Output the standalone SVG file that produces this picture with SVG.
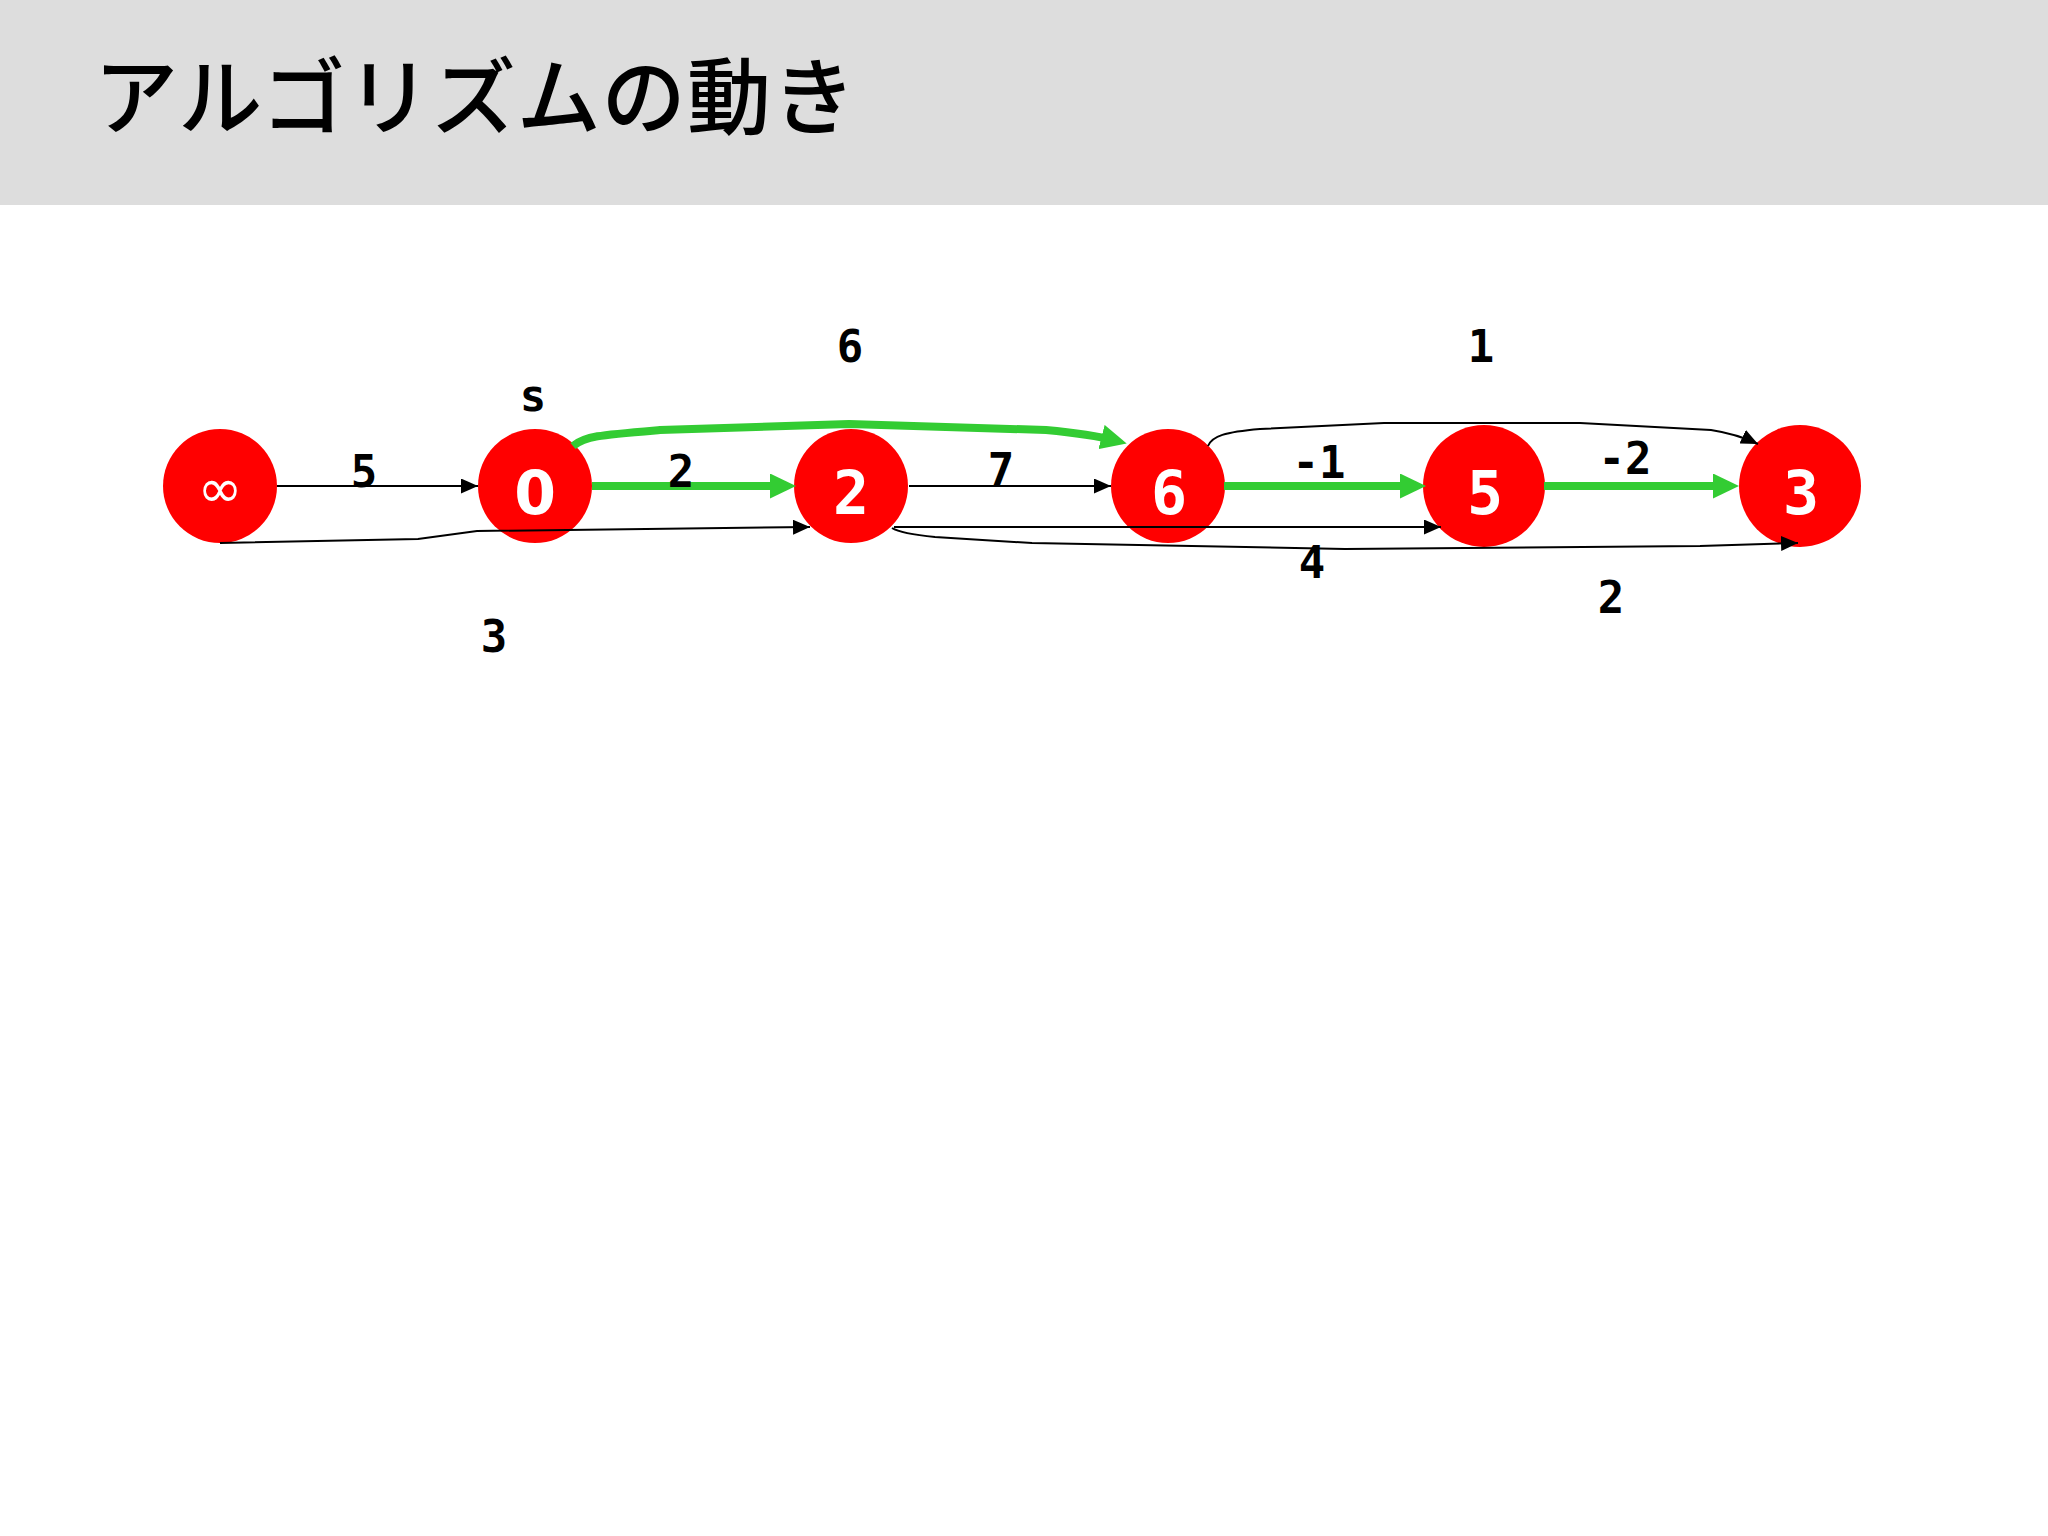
<svg xmlns="http://www.w3.org/2000/svg" width="2048" height="1536" viewBox="0 0 2048 1536">
<defs>
<style>
.node{fill:#ff0000}
.nlabel{font-family:"DejaVu Sans Mono","Liberation Mono",monospace;font-weight:bold;font-size:60px;fill:#ffffff;text-anchor:middle}
.elabel{font-family:"DejaVu Sans Mono","Liberation Mono",monospace;font-weight:bold;font-size:44px;fill:#000000;text-anchor:middle}
.black{fill:none;stroke:#000000;stroke-width:2}
.green{fill:none;stroke:#33cc33;stroke-width:8}
</style>
<marker id="ab" markerUnits="userSpaceOnUse" markerWidth="17" markerHeight="15" refX="17" refY="7.5" orient="auto">
<path d="M0,0 L17,7.5 L0,15 Z" fill="#000000"/>
</marker>
<marker id="ag" markerUnits="userSpaceOnUse" markerWidth="26" markerHeight="25" refX="16" refY="12.5" orient="auto">
<path d="M0,0 L26,12.5 L0,25 Z" fill="#33cc33"/>
</marker>
</defs>
<rect x="0" y="0" width="2048" height="1536" fill="#ffffff"/>
<g id="header">
<rect x="0" y="0" width="2048" height="205" fill="#dddddd"/>
<text x="94" y="128" font-family="'Noto Sans CJK JP','Noto Sans CJK SC',sans-serif" font-size="84" font-weight="500" textLength="762" lengthAdjust="spacing" fill="#000000">アルゴリズムの動き</text>
</g>
<g id="node-inf"><circle class="node" cx="220" cy="486" r="57"/><text x="220" y="507" font-family="'DejaVu Sans',sans-serif" font-size="54" fill="#ffffff" text-anchor="middle">∞</text></g>
<g id="node-0"><circle class="node" cx="535" cy="486" r="57"/><text class="nlabel" x="535" y="514" style="font-family:'DejaVu Sans',sans-serif">0</text><text class="elabel" x="533" y="411" font-size="42">s</text></g>
<g id="node-2"><circle class="node" cx="851" cy="486" r="57"/><text class="nlabel" x="851" y="514">2</text></g>
<g id="node-6"><circle class="node" cx="1168" cy="486" r="57"/><text class="nlabel" x="1169" y="514">6</text></g>
<g id="node-5"><circle class="node" cx="1484" cy="486" r="61"/><text class="nlabel" x="1485" y="514">5</text></g>
<g id="node-3"><circle class="node" cx="1800" cy="486" r="61"/><text class="nlabel" x="1801" y="514">3</text></g>
<g id="connectors">
<path class="black" d="M277,486 L478,486" marker-end="url(#ab)"/>
<path class="black" d="M220,543 L418,539 L477,531 L810,527" marker-end="url(#ab)"/>
<path class="black" d="M909,486 L1111,486" marker-end="url(#ab)"/>
<path class="black" d="M894,527 L1441,527" marker-end="url(#ab)"/>
<path class="black" d="M892,528 C900,533 915,535 935,537 L1032,543 L1345,549 L1700,546 L1798,543" marker-end="url(#ab)"/>
<path class="black" d="M1208,446 C1212,436 1225,432 1260,429 L1384,423 L1580,423 L1711,430 Q1737,434 1758,444" marker-end="url(#ab)"/>
<path class="green" d="M592,486 L786,486" marker-end="url(#ag)"/>
<path class="green" d="M1224,486 L1416,486" marker-end="url(#ag)"/>
<path class="green" d="M1544,486 L1729,486" marker-end="url(#ag)"/>
<path class="green" d="M573,446 C585,436 600,435 660,430 L849,424 L1046,430 Q1090,434 1117,441" marker-end="url(#ag)"/>
<text class="elabel" x="364" y="487">5</text>
<text class="elabel" x="681" y="487">2</text>
<text class="elabel" x="850" y="362">6</text>
<text class="elabel" x="494" y="652">3</text>
<text class="elabel" x="1001" y="485">7</text>
<text class="elabel" x="1319" y="478">-1</text>
<text class="elabel" x="1625" y="474">-2</text>
<text class="elabel" x="1481" y="362">1</text>
<text class="elabel" x="1312" y="578">4</text>
<text class="elabel" x="1611" y="613">2</text>
</g>
</svg>
